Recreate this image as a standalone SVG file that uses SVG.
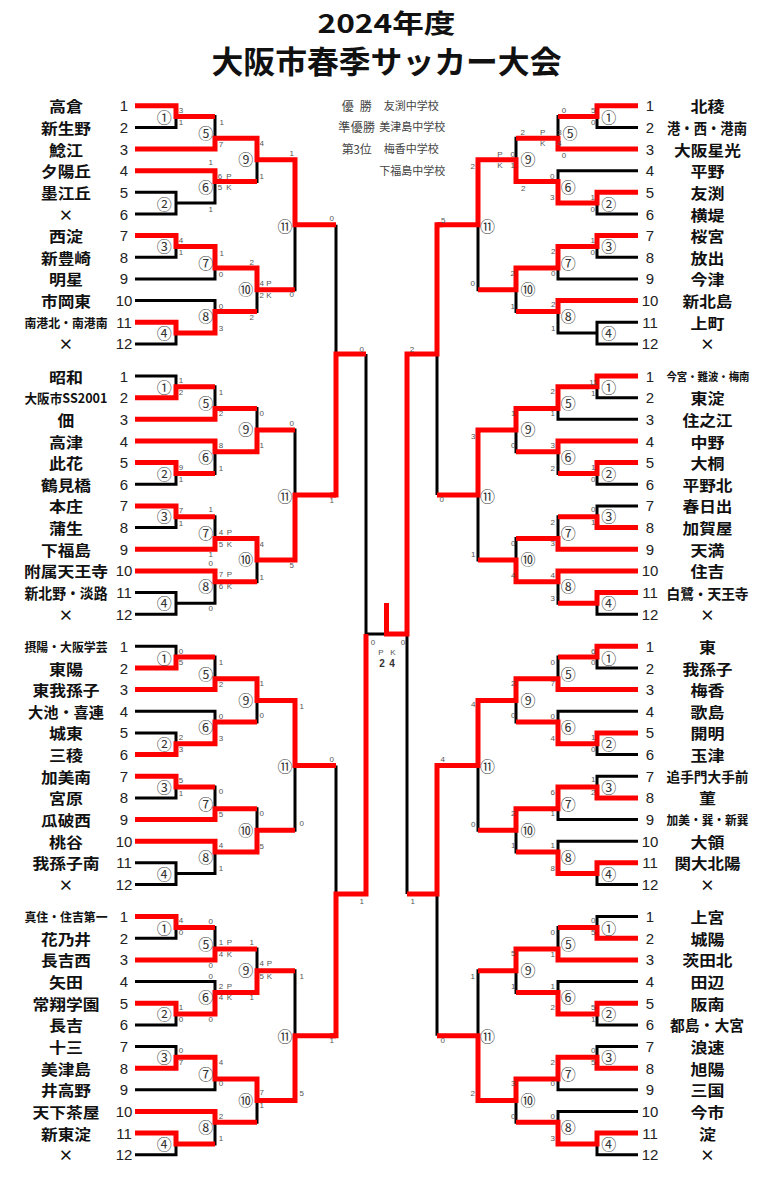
<svg xmlns="http://www.w3.org/2000/svg" xmlns:xlink="http://www.w3.org/1999/xlink" width="768" height="1186" viewBox="0 0 768 1186">
<style>
.k{fill:none;stroke:#000;stroke-width:3;stroke-linejoin:miter}
.r{fill:none;stroke:#f00;stroke-width:5;stroke-linejoin:miter}
text{dominant-baseline:central;text-anchor:middle}
.nm{font-family:"Noto Sans CJK JP","Noto Sans CJK SC",sans-serif;font-size:14.8px;font-weight:700;fill:#111}
.no{font-family:"Liberation Sans",Arial,sans-serif;font-size:15px;fill:#222}
.mc{font-family:"Noto Sans CJK JP","Noto Sans CJK SC",sans-serif;font-size:15px;fill:#333}
.sc{font-family:"Liberation Sans",Arial,sans-serif;font-size:8px;fill:#555}
.lg{font-family:"Noto Sans CJK JP","Noto Sans CJK SC",sans-serif;fill:#444}
.tt{font-family:"Noto Sans CJK JP","Noto Sans CJK SC",sans-serif;font-weight:700;fill:#111}
</style>
<defs>
<path id="sk" d="M135 105.7H176V127.4H135M176 116.5H215V149H135M135 170.7H215V203.1H176M135 192.3H176V214H135M215 138.2H257V181.5H215M257 159.8H295V289.7H257M135 235.6H176V257.3H135M176 246.4H215V278.9H135M135 300.6H215V333H176M135 322.2H176V343.9H135M215 268.1H257V311.4H215M295 224.8H336"/>
</defs>
<rect width="768" height="1186" fill="#fff"/>

<g id="title">
<text class="tt" x="386.5" y="21" font-size="26" textLength="138" lengthAdjust="spacingAndGlyphs">2024年度</text>
<text class="tt" x="386.5" y="59.5" font-size="31" textLength="350" lengthAdjust="spacingAndGlyphs">大阪市春季サッカー大会</text>
</g>

<g id="legend" class="lg">
<text x="356.7" y="105" font-size="12" textLength="30" lengthAdjust="spacing">優勝</text>
<text x="411.3" y="105" font-size="11">友渕中学校</text>
<text x="356.7" y="126" font-size="12" textLength="36.7" lengthAdjust="spacing">準優勝</text>
<text x="412.2" y="126" font-size="11">美津島中学校</text>
<text x="356.7" y="148.3" font-size="12" textLength="30" lengthAdjust="spacing">第3位</text>
<text x="411.3" y="148.3" font-size="11">梅香中学校</text>
<text x="412.2" y="170" font-size="11">下福島中学校</text>
</g>

<g id="connectors">
<use xlink:href="#sk" href="#sk" class="k"/>
<use xlink:href="#sk" href="#sk" class="k" transform="translate(0,270.3)"/>
<use xlink:href="#sk" href="#sk" class="k" transform="translate(0,540.6)"/>
<use xlink:href="#sk" href="#sk" class="k" transform="translate(0,810.9)"/>
<use xlink:href="#sk" href="#sk" class="k" transform="matrix(-1 0 0 1 773 0)"/>
<use xlink:href="#sk" href="#sk" class="k" transform="matrix(-1 0 0 1 773 270.3)"/>
<use xlink:href="#sk" href="#sk" class="k" transform="matrix(-1 0 0 1 773 540.6)"/>
<use xlink:href="#sk" href="#sk" class="k" transform="matrix(-1 0 0 1 773 810.9)"/>
<path class="k" d="M336 224.8V495.1M336 765.4V1035.7M336 354H366M336 894H366M366 354V894M366 634H407M407 354V894M407 354H437M407 894H437M437 224.8V495.1M437 765.4V1035.7"/>

<g class="r">
<path d="M135 105.7H176V116.5H215M135 149H215V138.2H257V159.8H295V224.8H336M135 170.7H215V181.5H257M135 235.6H176V246.4H215V268.1H257V289.7H295M135 322.2H176V333H215V311.4H257"/>
<path transform="translate(0,270.3)" d="M135 127.4H176V116.5H215M135 149H215V138.2H257M135 170.7H215V181.5H257V159.8H295M135 192.3H176V203.1H215M135 235.6H176V246.4H215M135 278.9H215V268.1H257V289.7H295V224.8H336M135 300.6H215V311.4H257"/>
<path transform="translate(0,540.6)" d="M135 127.4H176V116.5H215M135 149H215V138.2H257V159.8H295V224.8H336M135 214H176V203.1H215V181.5H257M135 235.6H176V246.4H215M135 278.9H215V268.1H257M135 300.6H215V311.4H257V289.7H295"/>
<path transform="translate(0,810.9)" d="M135 105.7H176V116.5H215M135 149H215V138.2H257M135 192.3H176V203.1H215V181.5H257V159.8H295M135 257.3H176V246.4H215V268.1H257V289.7H295V224.8H336M135 300.6H215V311.4H257M135 322.2H176V333H215"/>
<path transform="matrix(-1 0 0 1 773 0)" d="M135 105.7H176V116.5H215M135 149H215V138.2H257M135 192.3H176V203.1H215V181.5H257V159.8H295V224.8H336M135 235.6H176V246.4H215V268.1H257V289.7H295M135 300.6H215V311.4H257"/>
<path transform="matrix(-1 0 0 1 773 270.3)" d="M135 105.7H176V116.5H215V138.2H257V159.8H295V224.8H336M135 170.7H215V181.5H257M135 192.3H176V203.1H215M135 257.3H176V246.4H215M135 278.9H215V268.1H257M135 300.6H215V311.4H257V289.7H295M135 322.2H176V333H215"/>
<path transform="matrix(-1 0 0 1 773 540.6)" d="M135 105.7H176V116.5H215M135 149H215V138.2H257V159.8H295V224.8H336M135 192.3H176V203.1H215V181.5H257M135 257.3H176V246.4H215V268.1H257V289.7H295M135 322.2H176V333H215V311.4H257"/>
<path transform="matrix(-1 0 0 1 773 810.9)" d="M135 127.4H176V116.5H215M135 149H215V138.2H257V159.8H295M135 192.3H176V203.1H215V181.5H257M135 257.3H176V246.4H215V268.1H257V289.7H295V224.8H336M135 322.2H176V333H215V311.4H257"/>
<path d="M330 495.1H336V354H366M330 1035.7H336V894H366V634M443 224.8H437V354H407V634H386.5V603M443 765.4H437V894H407"/>
</g>
</g>

<g id="teams-left">
<g id="L1-01"><text class="nm" x="66" y="105.7" textLength="34" lengthAdjust="spacingAndGlyphs">高倉</text><text class="no" x="124" y="105.7">1</text></g>
<g id="L1-02"><text class="nm" x="66" y="127.4" textLength="50" lengthAdjust="spacingAndGlyphs">新生野</text><text class="no" x="124" y="127.4">2</text></g>
<g id="L1-03"><text class="nm" x="66" y="149" textLength="34" lengthAdjust="spacingAndGlyphs">鯰江</text><text class="no" x="124" y="149">3</text></g>
<g id="L1-04"><text class="nm" x="66" y="170.7" textLength="50" lengthAdjust="spacingAndGlyphs">夕陽丘</text><text class="no" x="124" y="170.7">4</text></g>
<g id="L1-05"><text class="nm" x="66" y="192.3" textLength="50" lengthAdjust="spacingAndGlyphs">墨江丘</text><text class="no" x="124" y="192.3">5</text></g>
<g id="L1-06"><text class="nm" x="66" y="214">×</text><text class="no" x="124" y="214">6</text></g>
<g id="L1-07"><text class="nm" x="66" y="235.6" textLength="34" lengthAdjust="spacingAndGlyphs">西淀</text><text class="no" x="124" y="235.6">7</text></g>
<g id="L1-08"><text class="nm" x="66" y="257.3" textLength="50" lengthAdjust="spacingAndGlyphs">新豊崎</text><text class="no" x="124" y="257.3">8</text></g>
<g id="L1-09"><text class="nm" x="66" y="278.9" textLength="34" lengthAdjust="spacingAndGlyphs">明星</text><text class="no" x="124" y="278.9">9</text></g>
<g id="L1-10"><text class="nm" x="66" y="300.6" textLength="50" lengthAdjust="spacingAndGlyphs">市岡東</text><text class="no" x="124" y="300.6">10</text></g>
<g id="L1-11"><text class="nm" x="66" y="322.2" style="font-size:12.5px" textLength="83" lengthAdjust="spacingAndGlyphs">南港北・南港南</text><text class="no" x="124" y="322.2">11</text></g>
<g id="L1-12"><text class="nm" x="66" y="343.9">×</text><text class="no" x="124" y="343.9">12</text></g>

<g id="L2-01"><text class="nm" x="66" y="376" textLength="34" lengthAdjust="spacingAndGlyphs">昭和</text><text class="no" x="124" y="376">1</text></g>
<g id="L2-02"><text class="nm" x="66" y="397.7" style="font-size:13px" textLength="83" lengthAdjust="spacingAndGlyphs">大阪市SS2001</text><text class="no" x="124" y="397.7">2</text></g>
<g id="L2-03"><text class="nm" x="66" y="419.3" textLength="17" lengthAdjust="spacingAndGlyphs">佃</text><text class="no" x="124" y="419.3">3</text></g>
<g id="L2-04"><text class="nm" x="66" y="441" textLength="34" lengthAdjust="spacingAndGlyphs">高津</text><text class="no" x="124" y="441">4</text></g>
<g id="L2-05"><text class="nm" x="66" y="462.6" textLength="34" lengthAdjust="spacingAndGlyphs">此花</text><text class="no" x="124" y="462.6">5</text></g>
<g id="L2-06"><text class="nm" x="66" y="484.3" textLength="50" lengthAdjust="spacingAndGlyphs">鶴見橋</text><text class="no" x="124" y="484.3">6</text></g>
<g id="L2-07"><text class="nm" x="66" y="505.9" textLength="34" lengthAdjust="spacingAndGlyphs">本庄</text><text class="no" x="124" y="505.9">7</text></g>
<g id="L2-08"><text class="nm" x="66" y="527.6" textLength="34" lengthAdjust="spacingAndGlyphs">蒲生</text><text class="no" x="124" y="527.6">8</text></g>
<g id="L2-09"><text class="nm" x="66" y="549.2" textLength="50" lengthAdjust="spacingAndGlyphs">下福島</text><text class="no" x="124" y="549.2">9</text></g>
<g id="L2-10"><text class="nm" x="66" y="570.9" textLength="84" lengthAdjust="spacingAndGlyphs">附属天王寺</text><text class="no" x="124" y="570.9">10</text></g>
<g id="L2-11"><text class="nm" x="66" y="592.5" style="font-size:14.5px" textLength="83" lengthAdjust="spacingAndGlyphs">新北野・淡路</text><text class="no" x="124" y="592.5">11</text></g>
<g id="L2-12"><text class="nm" x="66" y="614.2">×</text><text class="no" x="124" y="614.2">12</text></g>

<g id="L3-01"><text class="nm" x="66" y="646.3" style="font-size:12.5px" textLength="83" lengthAdjust="spacingAndGlyphs">摂陽・大阪学芸</text><text class="no" x="124" y="646.3">1</text></g>
<g id="L3-02"><text class="nm" x="66" y="668" textLength="34" lengthAdjust="spacingAndGlyphs">東陽</text><text class="no" x="124" y="668">2</text></g>
<g id="L3-03"><text class="nm" x="66" y="689.6" textLength="67" lengthAdjust="spacingAndGlyphs">東我孫子</text><text class="no" x="124" y="689.6">3</text></g>
<g id="L3-04"><text class="nm" x="66" y="711.3" textLength="76" lengthAdjust="spacingAndGlyphs">大池・喜連</text><text class="no" x="124" y="711.3">4</text></g>
<g id="L3-05"><text class="nm" x="66" y="732.9" textLength="34" lengthAdjust="spacingAndGlyphs">城東</text><text class="no" x="124" y="732.9">5</text></g>
<g id="L3-06"><text class="nm" x="66" y="754.6" textLength="34" lengthAdjust="spacingAndGlyphs">三稜</text><text class="no" x="124" y="754.6">6</text></g>
<g id="L3-07"><text class="nm" x="66" y="776.2" textLength="50" lengthAdjust="spacingAndGlyphs">加美南</text><text class="no" x="124" y="776.2">7</text></g>
<g id="L3-08"><text class="nm" x="66" y="797.9" textLength="34" lengthAdjust="spacingAndGlyphs">宮原</text><text class="no" x="124" y="797.9">8</text></g>
<g id="L3-09"><text class="nm" x="66" y="819.5" textLength="50" lengthAdjust="spacingAndGlyphs">瓜破西</text><text class="no" x="124" y="819.5">9</text></g>
<g id="L3-10"><text class="nm" x="66" y="841.2" textLength="34" lengthAdjust="spacingAndGlyphs">桃谷</text><text class="no" x="124" y="841.2">10</text></g>
<g id="L3-11"><text class="nm" x="66" y="862.8" textLength="67" lengthAdjust="spacingAndGlyphs">我孫子南</text><text class="no" x="124" y="862.8">11</text></g>
<g id="L3-12"><text class="nm" x="66" y="884.5">×</text><text class="no" x="124" y="884.5">12</text></g>

<g id="L4-01"><text class="nm" x="66" y="916.6" style="font-size:12.5px" textLength="83" lengthAdjust="spacingAndGlyphs">真住・住吉第一</text><text class="no" x="124" y="916.6">1</text></g>
<g id="L4-02"><text class="nm" x="66" y="938.3" textLength="50" lengthAdjust="spacingAndGlyphs">花乃井</text><text class="no" x="124" y="938.3">2</text></g>
<g id="L4-03"><text class="nm" x="66" y="959.9" textLength="50" lengthAdjust="spacingAndGlyphs">長吉西</text><text class="no" x="124" y="959.9">3</text></g>
<g id="L4-04"><text class="nm" x="66" y="981.6" textLength="34" lengthAdjust="spacingAndGlyphs">矢田</text><text class="no" x="124" y="981.6">4</text></g>
<g id="L4-05"><text class="nm" x="66" y="1003.2" textLength="67" lengthAdjust="spacingAndGlyphs">常翔学園</text><text class="no" x="124" y="1003.2">5</text></g>
<g id="L4-06"><text class="nm" x="66" y="1024.9" textLength="34" lengthAdjust="spacingAndGlyphs">長吉</text><text class="no" x="124" y="1024.9">6</text></g>
<g id="L4-07"><text class="nm" x="66" y="1046.5" textLength="34" lengthAdjust="spacingAndGlyphs">十三</text><text class="no" x="124" y="1046.5">7</text></g>
<g id="L4-08"><text class="nm" x="66" y="1068.2" textLength="50" lengthAdjust="spacingAndGlyphs">美津島</text><text class="no" x="124" y="1068.2">8</text></g>
<g id="L4-09"><text class="nm" x="66" y="1089.8" textLength="50" lengthAdjust="spacingAndGlyphs">井高野</text><text class="no" x="124" y="1089.8">9</text></g>
<g id="L4-10"><text class="nm" x="66" y="1111.5" textLength="67" lengthAdjust="spacingAndGlyphs">天下茶屋</text><text class="no" x="124" y="1111.5">10</text></g>
<g id="L4-11"><text class="nm" x="66" y="1133.1" textLength="50" lengthAdjust="spacingAndGlyphs">新東淀</text><text class="no" x="124" y="1133.1">11</text></g>
<g id="L4-12"><text class="nm" x="66" y="1154.8">×</text><text class="no" x="124" y="1154.8">12</text></g>
</g>

<g id="teams-right">
<g id="R1-01"><text class="nm" x="707.5" y="105.7" textLength="34" lengthAdjust="spacingAndGlyphs">北稜</text><text class="no" x="650" y="105.7">1</text></g>
<g id="R1-02"><text class="nm" x="707" y="127.4" style="font-size:14.5px" textLength="80" lengthAdjust="spacingAndGlyphs">港・西・港南</text><text class="no" x="650" y="127.4">2</text></g>
<g id="R1-03"><text class="nm" x="707.5" y="149" textLength="67" lengthAdjust="spacingAndGlyphs">大阪星光</text><text class="no" x="650" y="149">3</text></g>
<g id="R1-04"><text class="nm" x="707.5" y="170.7" textLength="34" lengthAdjust="spacingAndGlyphs">平野</text><text class="no" x="650" y="170.7">4</text></g>
<g id="R1-05"><text class="nm" x="707.5" y="192.3" textLength="34" lengthAdjust="spacingAndGlyphs">友渕</text><text class="no" x="650" y="192.3">5</text></g>
<g id="R1-06"><text class="nm" x="707.5" y="214" textLength="34" lengthAdjust="spacingAndGlyphs">横堤</text><text class="no" x="650" y="214">6</text></g>
<g id="R1-07"><text class="nm" x="707.5" y="235.6" textLength="34" lengthAdjust="spacingAndGlyphs">桜宮</text><text class="no" x="650" y="235.6">7</text></g>
<g id="R1-08"><text class="nm" x="707.5" y="257.3" textLength="34" lengthAdjust="spacingAndGlyphs">放出</text><text class="no" x="650" y="257.3">8</text></g>
<g id="R1-09"><text class="nm" x="707.5" y="278.9" textLength="34" lengthAdjust="spacingAndGlyphs">今津</text><text class="no" x="650" y="278.9">9</text></g>
<g id="R1-10"><text class="nm" x="707.5" y="300.6" textLength="50" lengthAdjust="spacingAndGlyphs">新北島</text><text class="no" x="650" y="300.6">10</text></g>
<g id="R1-11"><text class="nm" x="707.5" y="322.2" textLength="34" lengthAdjust="spacingAndGlyphs">上町</text><text class="no" x="650" y="322.2">11</text></g>
<g id="R1-12"><text class="nm" x="707.5" y="343.9">×</text><text class="no" x="650" y="343.9">12</text></g>

<g id="R2-01"><text class="nm" x="708" y="376" style="font-size:11px" textLength="83" lengthAdjust="spacingAndGlyphs">今宮・難波・梅南</text><text class="no" x="650" y="376">1</text></g>
<g id="R2-02"><text class="nm" x="707.5" y="397.7" textLength="34" lengthAdjust="spacingAndGlyphs">東淀</text><text class="no" x="650" y="397.7">2</text></g>
<g id="R2-03"><text class="nm" x="707.5" y="419.3" textLength="50" lengthAdjust="spacingAndGlyphs">住之江</text><text class="no" x="650" y="419.3">3</text></g>
<g id="R2-04"><text class="nm" x="707.5" y="441" textLength="34" lengthAdjust="spacingAndGlyphs">中野</text><text class="no" x="650" y="441">4</text></g>
<g id="R2-05"><text class="nm" x="707.5" y="462.6" textLength="34" lengthAdjust="spacingAndGlyphs">大桐</text><text class="no" x="650" y="462.6">5</text></g>
<g id="R2-06"><text class="nm" x="707.5" y="484.3" textLength="50" lengthAdjust="spacingAndGlyphs">平野北</text><text class="no" x="650" y="484.3">6</text></g>
<g id="R2-07"><text class="nm" x="707.5" y="505.9" textLength="50" lengthAdjust="spacingAndGlyphs">春日出</text><text class="no" x="650" y="505.9">7</text></g>
<g id="R2-08"><text class="nm" x="707.5" y="527.6" textLength="50" lengthAdjust="spacingAndGlyphs">加賀屋</text><text class="no" x="650" y="527.6">8</text></g>
<g id="R2-09"><text class="nm" x="707.5" y="549.2" textLength="34" lengthAdjust="spacingAndGlyphs">天満</text><text class="no" x="650" y="549.2">9</text></g>
<g id="R2-10"><text class="nm" x="707.5" y="570.9" textLength="34" lengthAdjust="spacingAndGlyphs">住吉</text><text class="no" x="650" y="570.9">10</text></g>
<g id="R2-11"><text class="nm" x="707.5" y="592.5" style="font-size:14px" textLength="82" lengthAdjust="spacingAndGlyphs">白鷺・天王寺</text><text class="no" x="650" y="592.5">11</text></g>
<g id="R2-12"><text class="nm" x="707.5" y="614.2">×</text><text class="no" x="650" y="614.2">12</text></g>

<g id="R3-01"><text class="nm" x="707.5" y="646.3" textLength="17" lengthAdjust="spacingAndGlyphs">東</text><text class="no" x="650" y="646.3">1</text></g>
<g id="R3-02"><text class="nm" x="707.5" y="668" textLength="50" lengthAdjust="spacingAndGlyphs">我孫子</text><text class="no" x="650" y="668">2</text></g>
<g id="R3-03"><text class="nm" x="707.5" y="689.6" textLength="34" lengthAdjust="spacingAndGlyphs">梅香</text><text class="no" x="650" y="689.6">3</text></g>
<g id="R3-04"><text class="nm" x="707.5" y="711.3" textLength="34" lengthAdjust="spacingAndGlyphs">歌島</text><text class="no" x="650" y="711.3">4</text></g>
<g id="R3-05"><text class="nm" x="707.5" y="732.9" textLength="34" lengthAdjust="spacingAndGlyphs">開明</text><text class="no" x="650" y="732.9">5</text></g>
<g id="R3-06"><text class="nm" x="707.5" y="754.6" textLength="34" lengthAdjust="spacingAndGlyphs">玉津</text><text class="no" x="650" y="754.6">6</text></g>
<g id="R3-07"><text class="nm" x="707.5" y="776.2" style="font-size:13.5px" textLength="82" lengthAdjust="spacingAndGlyphs">追手門大手前</text><text class="no" x="650" y="776.2">7</text></g>
<g id="R3-08"><text class="nm" x="707.5" y="797.9" textLength="17" lengthAdjust="spacingAndGlyphs">菫</text><text class="no" x="650" y="797.9">8</text></g>
<g id="R3-09"><text class="nm" x="707.5" y="819.5" style="font-size:12px" textLength="82" lengthAdjust="spacingAndGlyphs">加美・巽・新巽</text><text class="no" x="650" y="819.5">9</text></g>
<g id="R3-10"><text class="nm" x="707.5" y="841.2" textLength="34" lengthAdjust="spacingAndGlyphs">大領</text><text class="no" x="650" y="841.2">10</text></g>
<g id="R3-11"><text class="nm" x="707.5" y="862.8" textLength="66" lengthAdjust="spacingAndGlyphs">関大北陽</text><text class="no" x="650" y="862.8">11</text></g>
<g id="R3-12"><text class="nm" x="707.5" y="884.5">×</text><text class="no" x="650" y="884.5">12</text></g>

<g id="R4-01"><text class="nm" x="707.5" y="916.6" textLength="34" lengthAdjust="spacingAndGlyphs">上宮</text><text class="no" x="650" y="916.6">1</text></g>
<g id="R4-02"><text class="nm" x="707.5" y="938.3" textLength="34" lengthAdjust="spacingAndGlyphs">城陽</text><text class="no" x="650" y="938.3">2</text></g>
<g id="R4-03"><text class="nm" x="707.5" y="959.9" textLength="50" lengthAdjust="spacingAndGlyphs">茨田北</text><text class="no" x="650" y="959.9">3</text></g>
<g id="R4-04"><text class="nm" x="707.5" y="981.6" textLength="34" lengthAdjust="spacingAndGlyphs">田辺</text><text class="no" x="650" y="981.6">4</text></g>
<g id="R4-05"><text class="nm" x="707.5" y="1003.2" textLength="34" lengthAdjust="spacingAndGlyphs">阪南</text><text class="no" x="650" y="1003.2">5</text></g>
<g id="R4-06"><text class="nm" x="707" y="1024.9" textLength="74" lengthAdjust="spacingAndGlyphs">都島・大宮</text><text class="no" x="650" y="1024.9">6</text></g>
<g id="R4-07"><text class="nm" x="707.5" y="1046.5" textLength="34" lengthAdjust="spacingAndGlyphs">浪速</text><text class="no" x="650" y="1046.5">7</text></g>
<g id="R4-08"><text class="nm" x="707.5" y="1068.2" textLength="34" lengthAdjust="spacingAndGlyphs">旭陽</text><text class="no" x="650" y="1068.2">8</text></g>
<g id="R4-09"><text class="nm" x="707.5" y="1089.8" textLength="34" lengthAdjust="spacingAndGlyphs">三国</text><text class="no" x="650" y="1089.8">9</text></g>
<g id="R4-10"><text class="nm" x="707.5" y="1111.5" textLength="34" lengthAdjust="spacingAndGlyphs">今市</text><text class="no" x="650" y="1111.5">10</text></g>
<g id="R4-11"><text class="nm" x="707.5" y="1133.1" textLength="17" lengthAdjust="spacingAndGlyphs">淀</text><text class="no" x="650" y="1133.1">11</text></g>
<g id="R4-12"><text class="nm" x="707.5" y="1154.8">×</text><text class="no" x="650" y="1154.8">12</text></g>
</g>

<g id="matches-L1">
<g id="L1-m1"><text class="mc" x="164.3" y="116.5">①</text><text class="sc" x="181" y="110.7">3</text><text class="sc" x="181" y="122.7">1</text></g>
<g id="L1-m2"><text class="mc" x="164.3" y="203">②</text></g>
<g id="L1-m3"><text class="mc" x="164.3" y="245.5">③</text><text class="sc" x="181" y="240.7">4</text><text class="sc" x="181" y="252.7">1</text></g>
<g id="L1-m4"><text class="mc" x="164.3" y="332.5">④</text></g>
<g id="L1-m5"><text class="mc" x="205.7" y="132.5">⑤</text><text class="sc" x="221.7" y="122.7">1</text><text class="sc" x="221" y="144.3">7</text></g>
<g id="L1-m6"><text class="mc" x="205.7" y="186">⑥</text><text class="sc" x="210.7" y="162.7">1</text><text class="sc" x="220" y="176">6</text><text class="sc" x="229" y="176">P</text><text class="sc" x="220" y="187.7">5</text><text class="sc" x="229" y="187.7">K</text><text class="sc" x="210.7" y="209.3">1</text></g>
<g id="L1-m7"><text class="mc" x="205.7" y="262.5">⑦</text><text class="sc" x="221.7" y="253.3">1</text><text class="sc" x="221" y="274.3">0</text></g>
<g id="L1-m8"><text class="mc" x="205.7" y="315.5">⑧</text><text class="sc" x="221" y="306.7">0</text><text class="sc" x="221" y="328.3">3</text></g>
<g id="L1-m9"><text class="mc" x="245.7" y="158.5">⑨</text><text class="sc" x="261.7" y="143.3">4</text><text class="sc" x="261.7" y="176">1</text></g>
<g id="L1-m10"><text class="mc" x="245.7" y="288.5">⑩</text><text class="sc" x="251.7" y="262.7">2</text><text class="sc" x="261.7" y="283.3">4</text><text class="sc" x="269" y="283.3">P</text><text class="sc" x="261.7" y="295.7">2</text><text class="sc" x="269" y="295.7">K</text><text class="sc" x="251.7" y="317.7">2</text></g>
<g id="L1-m11"><text class="mc" x="285" y="225">⑪</text><text class="sc" x="291.7" y="153.3">1</text><text class="sc" x="291.7" y="294.3">0</text></g>
</g>

<g id="matches-L2">
<g id="L2-m1"><text class="mc" x="164.3" y="386.8">①</text><text class="sc" x="181" y="380.3">1</text><text class="sc" x="181" y="392">2</text></g>
<g id="L2-m2"><text class="mc" x="164.3" y="473.3">②</text><text class="sc" x="181" y="467">9</text><text class="sc" x="181" y="479.3">1</text></g>
<g id="L2-m3"><text class="mc" x="164.3" y="515.8">③</text><text class="sc" x="181" y="510.3">7</text><text class="sc" x="181" y="523">1</text></g>
<g id="L2-m4"><text class="mc" x="164.3" y="602.8">④</text></g>
<g id="L2-m5"><text class="mc" x="205.7" y="402.8">⑤</text><text class="sc" x="221" y="392">1</text><text class="sc" x="221" y="413.7">2</text></g>
<g id="L2-m6"><text class="mc" x="205.7" y="456.3">⑥</text><text class="sc" x="221" y="445.3">8</text><text class="sc" x="221" y="468">1</text></g>
<g id="L2-m7"><text class="mc" x="205.7" y="532.8">⑦</text><text class="sc" x="210.7" y="509.3">1</text><text class="sc" x="221" y="532.7">4</text><text class="sc" x="229.3" y="532.7">P</text><text class="sc" x="221" y="544.3">5</text><text class="sc" x="229.3" y="544.3">K</text><text class="sc" x="210.7" y="554.7">1</text></g>
<g id="L2-m8"><text class="mc" x="205.7" y="585.8">⑧</text><text class="sc" x="210.7" y="563.7">0</text><text class="sc" x="221" y="574.3">7</text><text class="sc" x="229.3" y="574.3">P</text><text class="sc" x="221" y="586.3">6</text><text class="sc" x="229.3" y="586.3">K</text><text class="sc" x="210.7" y="608.7">0</text></g>
<g id="L2-m9"><text class="mc" x="245.7" y="428.8">⑨</text><text class="sc" x="261.7" y="413.7">0</text><text class="sc" x="261.7" y="445.3">1</text></g>
<g id="L2-m10"><text class="mc" x="245.7" y="558.8">⑩</text><text class="sc" x="261.7" y="544.3">4</text><text class="sc" x="261.7" y="577">1</text></g>
<g id="L2-m11"><text class="mc" x="285" y="495.3">⑪</text><text class="sc" x="291.7" y="423.7">0</text><text class="sc" x="291.7" y="565.3">5</text></g>
</g>

<g id="matches-L3">
<g id="L3-m1"><text class="mc" x="164.3" y="657.1">①</text><text class="sc" x="181" y="651.3">0</text><text class="sc" x="181" y="662.7">5</text></g>
<g id="L3-m2"><text class="mc" x="164.3" y="743.6">②</text><text class="sc" x="181" y="737">2</text><text class="sc" x="181" y="749.3">3</text></g>
<g id="L3-m3"><text class="mc" x="164.3" y="786.1">③</text><text class="sc" x="181" y="780.3">5</text><text class="sc" x="181" y="793">1</text></g>
<g id="L3-m4"><text class="mc" x="164.3" y="873.1">④</text></g>
<g id="L3-m5"><text class="mc" x="205.7" y="673.1">⑤</text><text class="sc" x="221" y="662">1</text><text class="sc" x="221" y="684.7">2</text></g>
<g id="L3-m6"><text class="mc" x="205.7" y="726.6">⑥</text><text class="sc" x="221" y="716">0</text><text class="sc" x="221" y="738">3</text></g>
<g id="L3-m7"><text class="mc" x="205.7" y="803.1">⑦</text><text class="sc" x="221" y="791.3">0</text><text class="sc" x="221" y="814.3">5</text></g>
<g id="L3-m8"><text class="mc" x="205.7" y="856.1">⑧</text><text class="sc" x="221" y="845.3">4</text><text class="sc" x="221" y="868.7">1</text></g>
<g id="L3-m9"><text class="mc" x="245.7" y="699.1">⑨</text><text class="sc" x="261.7" y="683.7">1</text><text class="sc" x="261.7" y="715.3">0</text></g>
<g id="L3-m10"><text class="mc" x="245.7" y="829.1">⑩</text><text class="sc" x="261.7" y="813.7">0</text><text class="sc" x="261.7" y="846.3">5</text></g>
<g id="L3-m11"><text class="mc" x="285" y="765.6">⑪</text><text class="sc" x="301.7" y="706">1</text><text class="sc" x="301.7" y="823.7">0</text></g>
</g>

<g id="matches-L4">
<g id="L4-m1"><text class="mc" x="164.3" y="927.4">①</text><text class="sc" x="181" y="920.7">4</text><text class="sc" x="181" y="932.7">0</text></g>
<g id="L4-m2"><text class="mc" x="164.3" y="1013.9">②</text><text class="sc" x="181" y="1007.3">1</text><text class="sc" x="181" y="1019.3">0</text></g>
<g id="L4-m3"><text class="mc" x="164.3" y="1056.4">③</text><text class="sc" x="181" y="1050">0</text><text class="sc" x="181" y="1062.7">7</text></g>
<g id="L4-m4"><text class="mc" x="164.3" y="1143.4">④</text></g>
<g id="L4-m5"><text class="mc" x="205.7" y="943.4">⑤</text><text class="sc" x="210.7" y="921.7">0</text><text class="sc" x="221" y="942.7">1</text><text class="sc" x="229.3" y="942.7">P</text><text class="sc" x="221" y="954.3">4</text><text class="sc" x="229.3" y="954.3">K</text><text class="sc" x="210.7" y="965">0</text></g>
<g id="L4-m6"><text class="mc" x="205.7" y="996.9">⑥</text><text class="sc" x="210.7" y="976">0</text><text class="sc" x="221" y="986">2</text><text class="sc" x="229.3" y="986">P</text><text class="sc" x="221" y="997.7">4</text><text class="sc" x="229.3" y="997.7">K</text><text class="sc" x="210.7" y="1019.3">0</text></g>
<g id="L4-m7"><text class="mc" x="205.7" y="1073.4">⑦</text><text class="sc" x="221" y="1062.7">4</text><text class="sc" x="221" y="1083.3">0</text></g>
<g id="L4-m8"><text class="mc" x="205.7" y="1126.4">⑧</text><text class="sc" x="221" y="1116.7">2</text><text class="sc" x="221" y="1138.3">1</text></g>
<g id="L4-m9"><text class="mc" x="245.7" y="969.4">⑨</text><text class="sc" x="251.7" y="942.3">1</text><text class="sc" x="261.7" y="963.3">4</text><text class="sc" x="269.3" y="963.3">P</text><text class="sc" x="261.7" y="976">5</text><text class="sc" x="269.3" y="976">K</text><text class="sc" x="251.7" y="997.7">1</text></g>
<g id="L4-m10"><text class="mc" x="245.7" y="1099.4">⑩</text><text class="sc" x="261.7" y="1092.7">7</text><text class="sc" x="261.7" y="1105.7">1</text></g>
<g id="L4-m11"><text class="mc" x="285" y="1035.9">⑪</text><text class="sc" x="301.7" y="976">1</text><text class="sc" x="301.7" y="1093.3">5</text></g>
</g>

<g id="matches-R1">
<g id="R1-m1"><text class="mc" x="608.7" y="116.5">①</text><text class="sc" x="593.3" y="110.7">5</text><text class="sc" x="593.3" y="122.3">0</text></g>
<g id="R1-m2"><text class="mc" x="608.7" y="203">②</text><text class="sc" x="592.7" y="197.3">1</text><text class="sc" x="592.7" y="209.3">0</text></g>
<g id="R1-m3"><text class="mc" x="608.7" y="245.5">③</text><text class="sc" x="592.7" y="240">1</text><text class="sc" x="592.7" y="252.7">0</text></g>
<g id="R1-m4"><text class="mc" x="608.7" y="332.5">④</text></g>
<g id="R1-m5"><text class="mc" x="570" y="132.5">⑤</text><text class="sc" x="564" y="110">0</text><text class="sc" x="542.7" y="132.3">P</text><text class="sc" x="559.5" y="132.3">3</text><text class="sc" x="542.7" y="143.3">K</text><text class="sc" x="559.5" y="143.3">4</text><text class="sc" x="564" y="155">0</text></g>
<g id="R1-m6"><text class="mc" x="568.3" y="186">⑥</text><text class="sc" x="552.3" y="176">0</text><text class="sc" x="552.3" y="197.7">3</text></g>
<g id="R1-m7"><text class="mc" x="568.3" y="262.5">⑦</text><text class="sc" x="553.3" y="251.7">2</text><text class="sc" x="553.3" y="273.3">0</text></g>
<g id="R1-m8"><text class="mc" x="568.3" y="315.5">⑧</text><text class="sc" x="553.3" y="304.3">2</text><text class="sc" x="553.3" y="328.3">1</text></g>
<g id="R1-m9"><text class="mc" x="528" y="158.5">⑨</text><text class="sc" x="522.7" y="132.3">2</text><text class="sc" x="500" y="154.3">P</text><text class="sc" x="512.7" y="154.3">0</text><text class="sc" x="500" y="165.7">K</text><text class="sc" x="512.7" y="165.7">1</text><text class="sc" x="523.3" y="188.3">2</text></g>
<g id="R1-m10"><text class="mc" x="528" y="288.5">⑩</text><text class="sc" x="512.7" y="273.3">2</text><text class="sc" x="512.7" y="306.7">1</text></g>
<g id="R1-m11"><text class="mc" x="487.5" y="225">⑪</text><text class="sc" x="472.7" y="166">2</text><text class="sc" x="472.7" y="283.3">0</text></g>
</g>

<g id="matches-R2">
<g id="R2-m1"><text class="mc" x="608.7" y="386.8">①</text><text class="sc" x="593.3" y="382">11</text><text class="sc" x="593.3" y="393">1</text></g>
<g id="R2-m2"><text class="mc" x="608.7" y="473.3">②</text><text class="sc" x="593.3" y="467">1</text><text class="sc" x="593.3" y="479.3">0</text></g>
<g id="R2-m3"><text class="mc" x="608.7" y="515.8">③</text><text class="sc" x="593.3" y="509.3">0</text><text class="sc" x="593.3" y="522.7">1</text></g>
<g id="R2-m4"><text class="mc" x="608.7" y="602.8">④</text></g>
<g id="R2-m5"><text class="mc" x="568.3" y="402.8">⑤</text><text class="sc" x="552.7" y="391.3">2</text><text class="sc" x="552.7" y="413.7">1</text></g>
<g id="R2-m6"><text class="mc" x="568.3" y="456.3">⑥</text><text class="sc" x="552.7" y="445.3">3</text><text class="sc" x="552.7" y="468">2</text></g>
<g id="R2-m7"><text class="mc" x="568.3" y="532.8">⑦</text><text class="sc" x="552.7" y="522">2</text><text class="sc" x="552.7" y="543.7">3</text></g>
<g id="R2-m8"><text class="mc" x="568.3" y="585.8">⑧</text><text class="sc" x="552.7" y="575.3">4</text><text class="sc" x="552.7" y="598.7">3</text></g>
<g id="R2-m9"><text class="mc" x="528" y="428.8">⑨</text><text class="sc" x="513.3" y="413.7">1</text><text class="sc" x="513.3" y="445.3">0</text></g>
<g id="R2-m10"><text class="mc" x="528" y="558.8">⑩</text><text class="sc" x="513.3" y="543.7">0</text><text class="sc" x="513.3" y="575.3">4</text></g>
<g id="R2-m11"><text class="mc" x="487.5" y="495.3">⑪</text><text class="sc" x="473.3" y="436">3</text><text class="sc" x="473.3" y="554.3">1</text></g>
</g>

<g id="matches-R3">
<g id="R3-m1"><text class="mc" x="608.7" y="657.1">①</text><text class="sc" x="593.3" y="651.3">6</text><text class="sc" x="593.3" y="662.7">0</text></g>
<g id="R3-m2"><text class="mc" x="608.7" y="743.6">②</text><text class="sc" x="593.3" y="737">1</text><text class="sc" x="593.3" y="749.3">0</text></g>
<g id="R3-m3"><text class="mc" x="608.7" y="786.1">③</text><text class="sc" x="593.3" y="779.3">1</text><text class="sc" x="593.3" y="792">2</text></g>
<g id="R3-m4"><text class="mc" x="608.7" y="873.1">④</text></g>
<g id="R3-m5"><text class="mc" x="568.3" y="673.1">⑤</text><text class="sc" x="552.7" y="662">0</text><text class="sc" x="552.7" y="683.7">7</text></g>
<g id="R3-m6"><text class="mc" x="568.3" y="726.6">⑥</text><text class="sc" x="552.7" y="716">0</text><text class="sc" x="552.7" y="738">4</text></g>
<g id="R3-m7"><text class="mc" x="568.3" y="803.1">⑦</text><text class="sc" x="552.7" y="792">6</text><text class="sc" x="552.7" y="813.7">1</text></g>
<g id="R3-m8"><text class="mc" x="568.3" y="856.1">⑧</text><text class="sc" x="552.7" y="845.3">1</text><text class="sc" x="552.7" y="868.7">8</text></g>
<g id="R3-m9"><text class="mc" x="528" y="699.1">⑨</text><text class="sc" x="513.3" y="683.7">2</text><text class="sc" x="513.3" y="715.3">0</text></g>
<g id="R3-m10"><text class="mc" x="528" y="829.1">⑩</text><text class="sc" x="513.3" y="813.7">2</text><text class="sc" x="513.3" y="845.3">1</text></g>
<g id="R3-m11"><text class="mc" x="487.5" y="765.6">⑪</text><text class="sc" x="473.3" y="704.7">4</text><text class="sc" x="473.3" y="824.3">0</text></g>
</g>

<g id="matches-R4">
<g id="R4-m1"><text class="mc" x="608.7" y="927.4">①</text><text class="sc" x="593.3" y="920.7">0</text><text class="sc" x="593.3" y="932.7">5</text></g>
<g id="R4-m2"><text class="mc" x="608.7" y="1013.9">②</text><text class="sc" x="593.3" y="1007.3">5</text><text class="sc" x="593.3" y="1019.3">1</text></g>
<g id="R4-m3"><text class="mc" x="608.7" y="1056.4">③</text><text class="sc" x="593.3" y="1050">0</text><text class="sc" x="593.3" y="1062.7">5</text></g>
<g id="R4-m4"><text class="mc" x="608.7" y="1143.4">④</text></g>
<g id="R4-m5"><text class="mc" x="568.3" y="943.4">⑤</text><text class="sc" x="552.7" y="932.7">0</text><text class="sc" x="552.7" y="954.3">1</text></g>
<g id="R4-m6"><text class="mc" x="568.3" y="996.9">⑥</text><text class="sc" x="552.7" y="986">1</text><text class="sc" x="552.7" y="1007.7">2</text></g>
<g id="R4-m7"><text class="mc" x="568.3" y="1073.4">⑦</text><text class="sc" x="552.7" y="1062.7">2</text><text class="sc" x="552.7" y="1083.3">0</text></g>
<g id="R4-m8"><text class="mc" x="568.3" y="1126.4">⑧</text><text class="sc" x="552.7" y="1116">0</text><text class="sc" x="552.7" y="1138.3">3</text></g>
<g id="R4-m9"><text class="mc" x="528" y="969.4">⑨</text><text class="sc" x="513.3" y="953.3">5</text><text class="sc" x="513.3" y="986">1</text></g>
<g id="R4-m10"><text class="mc" x="528" y="1099.4">⑩</text><text class="sc" x="513.3" y="1083.3">3</text><text class="sc" x="513.3" y="1116">0</text></g>
<g id="R4-m11"><text class="mc" x="487.5" y="1035.9">⑪</text><text class="sc" x="472.7" y="976">1</text><text class="sc" x="472.7" y="1093.3">2</text></g>
</g>

<g id="finals">
<g id="qf-left-top"><text class="sc" x="331.7" y="218.3">0</text><text class="sc" x="331.7" y="500.3">1</text></g>
<g id="qf-left-bottom"><text class="sc" x="331.7" y="759.3">0</text><text class="sc" x="331.7" y="1040.7">1</text></g>
<g id="qf-right-top"><text class="sc" x="443.3" y="220">5</text><text class="sc" x="441.7" y="499.3">0</text></g>
<g id="qf-right-bottom"><text class="sc" x="442.7" y="759.3">4</text><text class="sc" x="442.7" y="1040.7">0</text></g>
<g id="sf-left"><text class="sc" x="361.7" y="349.3">0</text><text class="sc" x="361.7" y="901.7">1</text></g>
<g id="sf-right"><text class="sc" x="412" y="349.3">2</text><text class="sc" x="412.7" y="901.7">1</text></g>
<g id="final"><text class="sc" x="373" y="642">0</text><text class="sc" x="403" y="642">0</text><text class="sc" x="381" y="652">P</text><text class="sc" x="393" y="652">K</text><text class="sc" x="382" y="663" style="font-size:10px;font-weight:700;fill:#333">2</text><text class="sc" x="392" y="663" style="font-size:10px;font-weight:700;fill:#333">4</text></g>
</g>
</svg>
